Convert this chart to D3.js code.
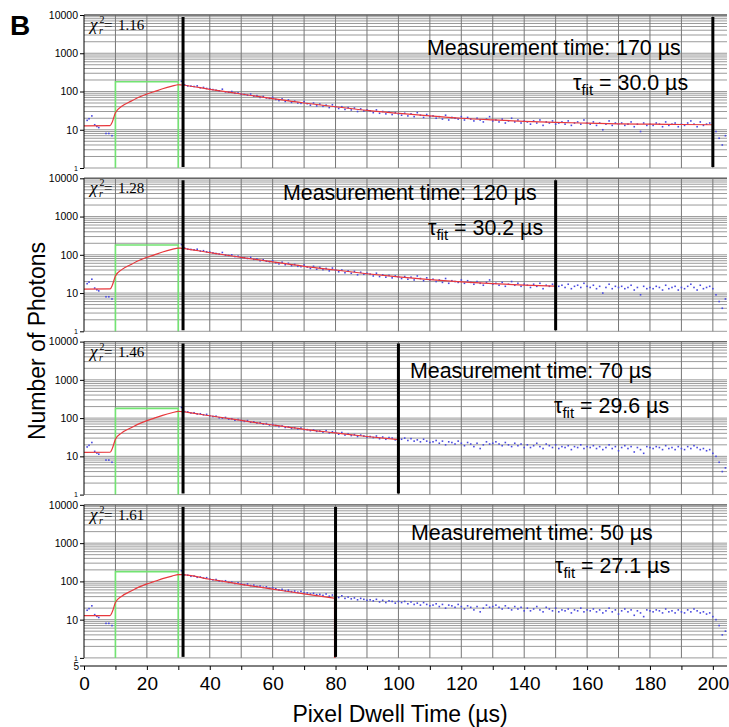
<!DOCTYPE html>
<html lang="en">
<head>
<meta charset="utf-8">
<title>Photon counts vs pixel dwell time</title>
<script src="https://cdn.jsdelivr.net/npm/d3@7"></script>
<style>
  body { margin: 0; background: #fff; }
  svg { display: block; font-family: Arial, "Liberation Sans", sans-serif; }
  .gridH line { stroke: #888; stroke-width: 0.85; }
  .gridV line { stroke: #777; stroke-width: 1; }
  .frame { stroke: #666; stroke-width: 1.4; }
  .axis text { font-family: Arial, "Liberation Sans", sans-serif; fill: #000; }
  .axis path, .axis line { stroke: #000; }
  .dot { fill: #4848e0; }
  .fit { fill: none; stroke: #e8383c; stroke-width: 1.2; }
  .pulse { fill: none; stroke: #72e472; stroke-width: 1.6; }
  .window { stroke: #000; stroke-width: 3; }
  .label { font-size: 21.4px; fill: #000; }
  .chi { font-family: "Liberation Serif", "Times New Roman", serif; font-size: 15px; fill: #000; }
</style>
</head>
<body>
<script>
var w = 729, h = 727;

// per-panel annotations
var chiSquared = ["1.16", "1.28", "1.46", "1.61"];
var measurementTimes = [170, 120, 70, 50];
var tauFit = ["30.0", "30.2", "29.6", "27.1"];
var windowStart = 31.5;
var windowEnd = [200, 150, 100, 80];

// excitation pulse (green)
var pulseOn = 10, pulseOff = 30, pulseLevel = 180;

// counts before the pulse
var preTimes = [1, 1.6, 2.5, 3.4, 4.1, 4.7, 7, 7.9, 8.9];
var preCounts = [17.6, 19.4, 23, 13.5, 12.2, 11.4, 8, 8, 7];

// counts after the pulse, one per µs starting at 31 µs
var decayStart = 31;
var countsA = [
  185, 150, 140, 138, 135, 140, 125, 128, 120, 118,
  112, 108, 104, 115, 98, 96, 100, 90, 92, 85,
  84, 80, 86, 76, 78, 70, 74, 68, 66, 70,
  62, 58, 64, 55, 60, 52, 56, 50, 49, 54,
  48, 44, 50, 42, 47, 41, 44, 38, 45, 40,
  36, 40, 34, 38, 33, 37, 30, 35, 31, 33,
  31, 28, 33, 27, 30, 26, 29, 25, 28, 26,
  24, 27, 23, 26, 22, 28, 24, 21, 25, 22,
  23, 20, 22, 19, 24, 18, 21, 20, 19, 22,
  18, 21, 19, 17, 20, 18, 16, 19, 22, 17,
  18, 16, 19, 15, 17, 20, 16, 18, 15, 17,
  16, 14, 17, 15, 18, 13, 16, 15, 17, 14,
  15, 16, 14, 17, 13, 15, 16, 14, 18, 15,
  14, 16, 13, 15, 10, 14, 17, 13, 15, 14,
  15, 13, 14, 16, 12, 14, 9, 15, 13, 14,
  13, 15, 14, 12, 16, 13, 14, 15, 12, 14,
  13, 15, 17, 14, 12, 16, 13, 14, 15, 13,
  9, 6, 4, 7, 5
];
var countsB = [
  190, 148, 145, 136, 138, 128, 130, 122, 125, 115,
  110, 112, 102, 100, 104, 94, 96, 88, 92, 86,
  82, 86, 78, 80, 74, 76, 70, 72, 66, 68,
  64, 60, 62, 57, 59, 54, 56, 52, 55, 50,
  50, 47, 49, 45, 46, 43, 47, 41, 44, 42,
  38, 42, 36, 39, 35, 37, 33, 36, 34, 32,
  33, 31, 34, 29, 32, 28, 31, 30, 27, 30,
  28, 30, 26, 29, 25, 27, 24, 28, 25, 23,
  24, 26, 22, 25, 20, 24, 23, 21, 25, 22,
  19, 23, 21, 18, 22, 16, 20, 24, 21, 22,
  24, 21, 19, 23, 20, 18, 22, 19, 21, 17,
  20, 17, 19, 22, 18, 16, 21, 19, 17, 20,
  16, 18, 17, 19, 15, 18, 17, 20, 16, 18,
  17, 19, 16, 18, 15, 17, 20, 16, 18, 14,
  17, 19, 16, 18, 13, 17, 15, 12, 18, 17,
  16, 18, 17, 15, 19, 16, 17, 15, 18, 16,
  15, 18, 16, 19, 17, 15, 16, 14, 15, 12,
  10, 7, 4, 5, 3
];
var panelCounts = [countsA, countsA, countsB, countsB];

// fitted curve (red): rise during the pulse, then decay per panel
var riseFit = [[0, 12.7], [8.3, 12.8], [9, 16], [10, 28], [12, 41], [15, 56], [18, 74],
               [20, 86], [22, 97], [25, 118], [28, 138], [30, 150]];
var decayFit1 = [[31, 148], [40, 114], [50, 86], [60, 65], [70, 50], [80, 40], [90, 32],
                 [100, 27], [110, 23], [120, 20], [130, 18.1], [140, 16.6], [150, 15.6],
                 [160, 14.9], [170, 14.3], [180, 14], [190, 13.7], [200, 13.5]];
var decayFit2 = [[31, 148], [40, 114], [50, 86], [60, 65], [70, 50], [80, 40], [90, 32],
                 [100, 26.5], [110, 22.5], [120, 19.6], [130, 17.6], [140, 16.2], [150, 15.2]];
var decayFit3 = [[31, 148], [40, 115], [50, 87], [60, 66], [70, 51], [80, 41], [90, 33], [100, 27.5]];
var decayFit4 = [[31, 150], [40, 114], [50, 84], [60, 63], [70, 47], [80, 36]];
var decayFits = [decayFit1, decayFit2, decayFit3, decayFit4];

var yTicks = [1, 10, 100, 1000, 10000];
var xTicks = d3.range(0, 201, 10);

// layout
var panelTop = 15, panelStep = 163.3, panelH = 153;
var measX = [427, 283, 410, 411], measY = [55, 200, 378, 540];
var tauX = [573, 428, 554, 555], tauY = [90, 235, 413, 573];

var svg = d3.select("body").append("svg")
  .attr("width", w)
  .attr("height", h);

var x = d3.scaleLinear().domain([0, 204.5]).range([84, 727]);

var hGrid = [];
yTicks.slice(0, 4).forEach(function(d) {
  for (var k = 1; k < 10; k++) hGrid.push(d * k);
});
hGrid.push(10000);

var fitLine = d3.line().curve(d3.curveMonotoneX);

d3.range(4).forEach(function(i) {
  var top = panelTop + i * panelStep, bottom = top + panelH;
  var y = d3.scaleLog().domain([1, 10000]).range([bottom, top]);
  var g = svg.append("g");

  g.append("clipPath").attr("id", "clip" + i)
    .append("rect")
    .attr("x", x(0)).attr("y", top - 1)
    .attr("width", x(204.5) - x(0)).attr("height", panelH + 2);

  var plot = g.append("g").attr("clip-path", "url(#clip" + i + ")");

  // grid
  plot.append("g").attr("class", "gridH")
    .selectAll("line").data(hGrid).enter().append("line")
    .attr("x1", x(0)).attr("x2", x(204.5))
    .attr("y1", function(d) { return y(d); })
    .attr("y2", function(d) { return y(d); });

  plot.append("g").attr("class", "gridV")
    .selectAll("line").data(xTicks.slice(1)).enter().append("line")
    .attr("x1", function(d) { return x(d); })
    .attr("x2", function(d) { return x(d); })
    .attr("y1", top).attr("y2", bottom);

  g.append("line").attr("class", "frame")
    .attr("x1", x(0)).attr("x2", x(204.5))
    .attr("y1", top).attr("y2", top);

  // pulse
  plot.append("path").attr("class", "pulse")
    .attr("d", d3.line()([[pulseOn, 1], [pulseOn, pulseLevel], [pulseOff, pulseLevel], [pulseOff, 1]]
      .map(function(p) { return [x(p[0]), y(p[1])]; })));

  // data points
  var pts = preTimes.map(function(t, j) { return [t, preCounts[j]]; })
    .concat(panelCounts[i].map(function(c, j) { return [decayStart + j, c]; }));
  plot.append("g").selectAll("rect").data(pts).enter().append("rect")
    .attr("class", "dot")
    .attr("x", function(d) { return x(d[0]) - 0.8; })
    .attr("y", function(d) { return y(d[1]) - 0.8; })
    .attr("width", 1.6).attr("height", 1.6);

  // fit
  var fitPts = riseFit.concat(decayFits[i]).map(function(p) { return [x(p[0]), y(p[1])]; });
  plot.append("path").attr("class", "fit").attr("d", fitLine(fitPts));
  if (i === 3) {
    var last = decayFits[i][decayFits[i].length - 1];
    plot.append("line").attr("class", "fit")
      .attr("x1", x(last[0]) - 1).attr("x2", x(last[0]) - 1)
      .attr("y1", y(last[1])).attr("y2", bottom);
  }

  // measurement window
  [windowStart, windowEnd[i]].forEach(function(t) {
    plot.append("line").attr("class", "window")
      .attr("x1", x(t)).attr("x2", x(t))
      .attr("y1", top + 2).attr("y2", bottom - 1);
  });

  // y axis
  var yAxis = d3.axisLeft(y).tickValues(yTicks).tickSize(4).tickPadding(2)
    .tickFormat(function(d) { return d; });
  var ya = g.append("g").attr("class", "axis")
    .attr("transform", "translate(" + x(0) + ",0)")
    .call(yAxis);
  ya.select(".domain").attr("d", "M0," + top + "V" + bottom);
  ya.selectAll("text").style("font-size", function(d) { return d === 1 ? "7px" : "10.5px"; });

  // labels
  var chi = g.append("g").attr("class", "chi");
  chi.append("text").attr("x", 90).attr("y", top + 15).style("font-style", "italic").style("font-size", "17px").text("χ");
  chi.append("text").attr("x", 99.5).attr("y", top + 8).style("font-size", "10px").text("2");
  chi.append("text").attr("x", 99).attr("y", top + 19).style("font-size", "10px").style("font-style", "italic").text("r");
  chi.append("text").attr("x", 104).attr("y", top + 15).text("=");
  chi.append("text").attr("x", 118).attr("y", top + 15).text(chiSquared[i]);

  g.append("text").attr("class", "label")
    .attr("x", measX[i]).attr("y", measY[i])
    .text("Measurement time: " + measurementTimes[i] + " µs");

  var tau = g.append("text").attr("class", "label")
    .attr("x", tauX[i]).attr("y", tauY[i]);
  tau.append("tspan").text("τ");
  tau.append("tspan").attr("dy", 5).style("font-size", "15px").text("fit");
  tau.append("tspan").attr("dy", -5).text(" = " + tauFit[i] + " µs");
});

// bottom x axis
var xAxis = d3.axisBottom(x).tickValues(xTicks).tickSize(4).tickPadding(7)
  .tickFormat(function(d) { return d % 20 === 0 ? d : ""; });
var xa = svg.append("g").attr("class", "axis")
  .attr("transform", "translate(0,666)")
  .call(xAxis);
xa.select(".domain").attr("d", "M" + x(0) + ",0H" + x(204.5));
xa.selectAll("text").style("font-size", "19px");

svg.append("line").attr("x1", x(0) - 4).attr("x2", x(0)).attr("y1", 666).attr("y2", 666).attr("stroke", "#000");
svg.append("text").attr("x", x(0) - 5).attr("y", 670).attr("text-anchor", "end")
  .style("font-size", "10px").text("5");

// titles
svg.append("text")
  .attr("x", 10).attr("y", 35)
  .style("font-size", "28px").style("font-weight", "bold")
  .text("B");

svg.append("text")
  .attr("transform", "translate(45,341) rotate(-90)")
  .attr("text-anchor", "middle")
  .style("font-size", "23px")
  .text("Number of Photons");

svg.append("text")
  .attr("x", 400).attr("y", 722)
  .attr("text-anchor", "middle")
  .style("font-size", "23px")
  .text("Pixel Dwell Time (µs)");
</script>
</body>
</html>
